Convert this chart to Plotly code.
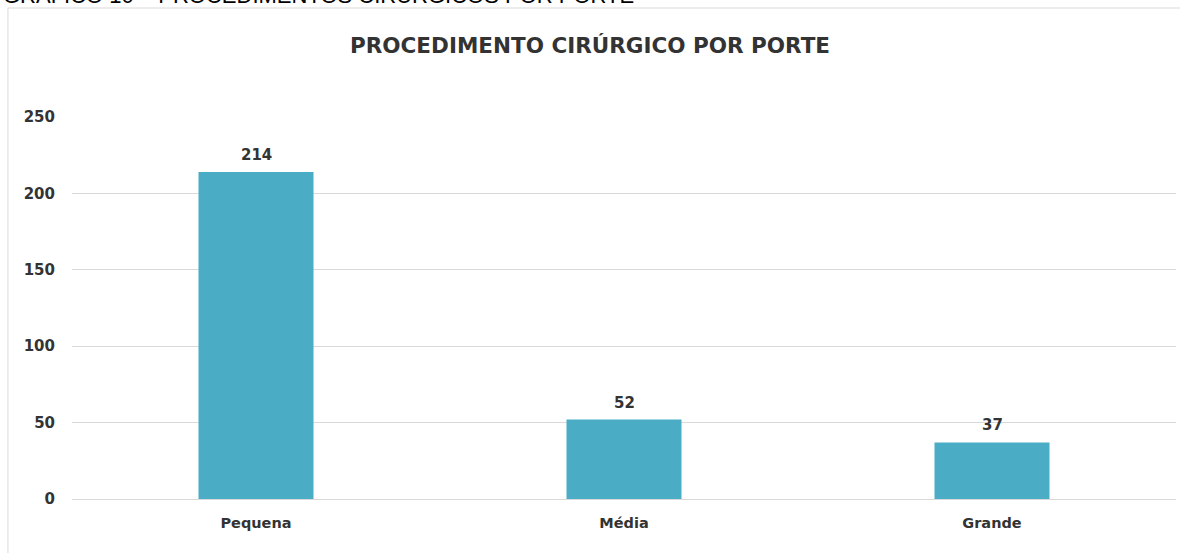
import plotly.graph_objects as go

categorias = ['Pequena', 'Média', 'Grande']
quantidades = [214, 52, 37]
ticks_y = [0, 50, 100, 150, 200, 250]

COR_BARRA = '#4BACC6'
COR_TEXTO = '#333333'
FONTE = 'DejaVu Sans'

fig = go.Figure()
fig.add_trace(go.Bar(
    x=categorias,
    y=quantidades,
    width=0.3125,
    marker=dict(color=COR_BARRA, line=dict(width=0)),
    hovertemplate='%{x}: %{y}<extra></extra>',
))

# rótulos de dados acima das barras
for cat, val in zip(categorias, quantidades):
    fig.add_annotation(
        x=cat, y=val, text=str(val), showarrow=False,
        yanchor='middle', yshift=17,
        font=dict(family=FONTE, size=15, color=COR_TEXTO, weight='bold'),
    )

# moldura do gráfico
fig.add_shape(
    type='rect', xref='paper', yref='paper',
    x0=-0.058, x1=1.05, y0=-0.3, y1=1.2853,
    line=dict(color='#d9d9d9', width=1), layer='below',
)

# legenda da figura (cortada no topo)
fig.add_annotation(
    text='GRÁFICO 10 – PROCEDIMENTOS CIRÚRGICOS POR PORTE',
    xref='paper', yref='paper', x=-0.0645, y=1.281,
    xanchor='left', yanchor='bottom', showarrow=False,
    font=dict(family='Liberation Sans', size=22, color='#000000'),
)

fig.update_layout(
    width=1180,
    height=553,
    title=dict(
        text='<b>PROCEDIMENTO CIRÚRGICO POR PORTE</b>',
        x=0.5, xanchor='center', y=1 - 45 / 553, yanchor='middle',
        font=dict(family=FONTE, size=21.5, color=COR_TEXTO),
    ),
    margin=dict(l=72, r=4, t=117, b=54),
    plot_bgcolor='white',
    paper_bgcolor='white',
    showlegend=False,
    bargap=0.6875,
    xaxis=dict(
        showgrid=False,
        showline=False,
        ticklabelstandoff=13,
        tickfont=dict(family=FONTE, size=14.5, color=COR_TEXTO, weight='bold'),
    ),
    yaxis=dict(
        range=[0, 250],
        tickvals=ticks_y,
        showgrid=True,
        gridcolor='#d9d9d9',
        gridwidth=1,
        zeroline=True,
        zerolinecolor='#d9d9d9',
        zerolinewidth=1,
        showline=False,
        ticklabelstandoff=16,
        tickfont=dict(family=FONTE, size=15, color=COR_TEXTO, weight='bold'),
    ),
)

fig.write_html(
    'out.html',
    config={'displayModeBar': False},
    post_script="document.body.style.margin='0';document.body.style.overflow='hidden';",
)
